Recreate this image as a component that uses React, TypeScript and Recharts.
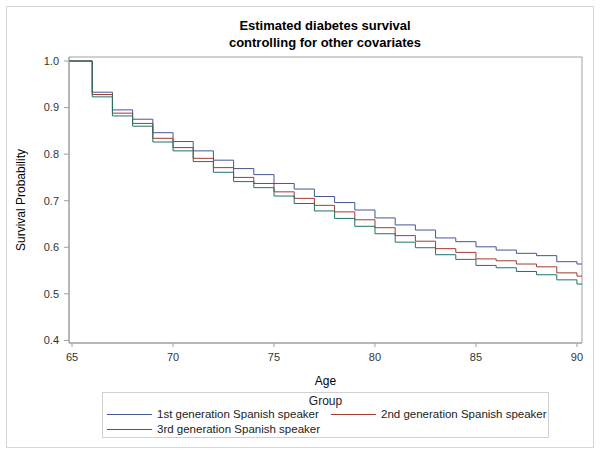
import React from "react";
import { LineChart, Line, XAxis, YAxis, ReferenceArea } from "recharts";

const ages = [64.85, 66, 67, 68, 69, 70, 71, 72, 73, 74, 75, 76, 77, 78, 79, 80, 81, 82, 83, 84, 85, 86, 87, 88, 89, 90, 90.25];

const gen1 = [1.0, 0.933, 0.895, 0.875, 0.846, 0.827, 0.807, 0.787, 0.769, 0.756, 0.737, 0.725, 0.709, 0.696, 0.680, 0.663, 0.648, 0.637, 0.620, 0.612, 0.601, 0.594, 0.587, 0.582, 0.569, 0.564, 0.564];
const gen2 = [1.0, 0.928, 0.888, 0.866, 0.834, 0.814, 0.791, 0.771, 0.750, 0.737, 0.719, 0.705, 0.690, 0.676, 0.659, 0.642, 0.625, 0.613, 0.597, 0.589, 0.575, 0.571, 0.564, 0.558, 0.545, 0.538, 0.538];
const gen3 = [1.0, 0.923, 0.882, 0.860, 0.826, 0.807, 0.784, 0.761, 0.741, 0.728, 0.710, 0.694, 0.678, 0.662, 0.645, 0.629, 0.611, 0.599, 0.584, 0.574, 0.561, 0.556, 0.548, 0.541, 0.530, 0.521, 0.521];

const xTicks = [65, 70, 75, 80, 85, 90];
const yTicks = [0.4, 0.5, 0.6, 0.7, 0.8, 0.9, 1.0];
const xDomain = [64.85, 90.25];
const yDomain = [0.3944, 1.0086];

const series = [
  { key: "g1", name: "1st generation Spanish speaker", color: "#445694", values: gen1 },
  { key: "g2", name: "2nd generation Spanish speaker", color: "#A23A2E", values: gen2 },
  { key: "g3", name: "3rd generation Spanish speaker", color: "#1C7468", values: gen3 },
];

const data = ages.map((a, i) => ({ age: a, g1: gen1[i], g2: gen2[i], g3: gen3[i] }));

const FONT = "'Liberation Sans', Arial, sans-serif";
const FRAME = "#A0A0A0";
const TICKTXT = "#333333";

export default function App() {
  return (
    <div style={{ position: "absolute", left: 0, top: 0, width: 600, height: 454, background: "#fff", fontFamily: FONT }}>
      <div style={{ position: "absolute", left: 6, top: 6, width: 586, height: 440, border: "1px solid #D8D8D8" }} />
      <div style={{ position: "absolute", left: 0, top: 17, width: 650, textAlign: "center", fontWeight: "bold", fontSize: 13, lineHeight: "17px", color: "#000" }}>
        Estimated diabetes survival
        <br />
        controlling for other covariates
      </div>
      <div style={{ position: "absolute", left: 0, top: 0 }}>
        <LineChart width={600} height={454} data={data} margin={{ top: 57, right: 18, bottom: 81, left: 29 }}>
          <XAxis
            dataKey="age"
            type="number"
            domain={xDomain}
            ticks={xTicks}
            allowDataOverflow
            height={30}
            tickSize={4}
            tickMargin={6}
            stroke={FRAME}
            tick={{ fill: TICKTXT, fontSize: 11, fontFamily: FONT }}
          />
          <YAxis
            type="number"
            domain={yDomain}
            ticks={yTicks}
            allowDataOverflow
            width={40}
            tickSize={5}
            tickMargin={5}
            stroke={FRAME}
            tickFormatter={(v: number) => v.toFixed(1)}
            tick={{ fill: TICKTXT, fontSize: 11, fontFamily: FONT }}
          />
          <ReferenceArea
            x1={xDomain[0]}
            x2={xDomain[1]}
            y1={yDomain[0]}
            y2={yDomain[1]}
            fill="none"
            fillOpacity={0}
            stroke={FRAME}
            strokeWidth={1}
            ifOverflow="visible"
          />
          {series.map((s) => (
            <Line
              key={s.key}
              dataKey={s.key}
              name={s.name}
              type="stepAfter"
              stroke={s.color}
              strokeWidth={1}
              dot={false}
              activeDot={false}
              isAnimationActive={false}
            />
          ))}
        </LineChart>
      </div>
      <div style={{ position: "absolute", left: 21, top: 200, width: 0, height: 0 }}>
        <div style={{ position: "absolute", left: 0, top: 0, transform: "translate(-50%,-50%) rotate(-90deg)", whiteSpace: "nowrap", fontSize: 12, color: "#000" }}>
          Survival Probability
        </div>
      </div>
      <div style={{ position: "absolute", left: 0, top: 374, width: 651, textAlign: "center", fontSize: 12, lineHeight: "14px", color: "#000" }}>
        Age
      </div>
      <div style={{ position: "absolute", left: 102, top: 392, width: 445, height: 44, border: "1px solid #D0D0D0", fontSize: 11.5, color: "#222" }}>
        <div style={{ position: "absolute", left: 0, top: 1, width: "100%", textAlign: "center", fontSize: 12, lineHeight: "14px" }}>Group</div>
        {series.map((s, i) => {
          const row = i < 2 ? 0 : 1;
          const col = i % 2;
          const left = col === 0 ? 4 : 228;
          const top = 14 + row * 15;
          return (
            <div key={s.key} style={{ position: "absolute", left, top, height: 14, whiteSpace: "nowrap" }}>
              <div style={{ position: "absolute", left: 0, top: 7, width: 45, height: 1, background: s.color }} />
              <span style={{ position: "absolute", left: 50, top: 0, lineHeight: "14px" }}>{s.name}</span>
            </div>
          );
        })}
      </div>
    </div>
  );
}
